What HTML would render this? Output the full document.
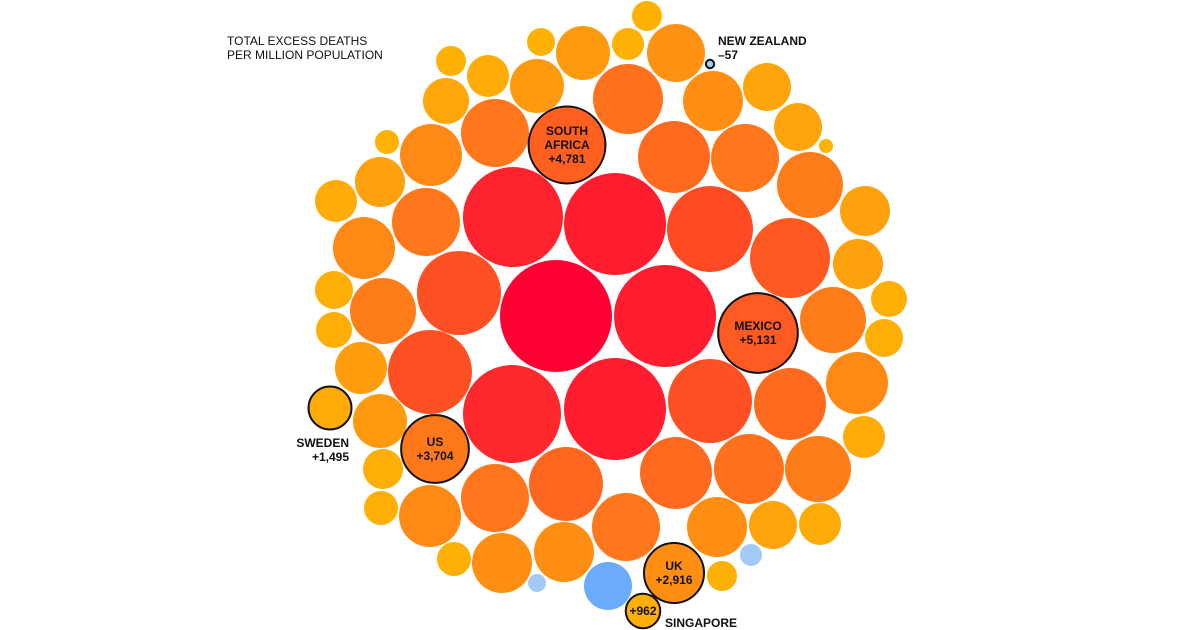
<!DOCTYPE html>
<html><head><meta charset="utf-8">
<style>
html,body{margin:0;padding:0;background:#fff;}
svg{display:block;font-family:"Liberation Sans",Arial,sans-serif;}
</style></head>
<body>
<svg id="chart" width="1200" height="630" viewBox="0 0 1200 630">
<text x="227" y="45" font-size="12" fill="#111">TOTAL EXCESS DEATHS</text>
<text x="227" y="59" font-size="12" fill="#111">PER MILLION POPULATION</text>
<g id="bubbles"></g>
<g id="labels" font-size="12" font-weight="bold" fill="#111"></g>
</svg>
<script>
// Data: excess deaths per million for each country bubble
const countries = ["c1","c2","c3","c4","c5","c6","c7","c8","c9","c10","Mexico","c11b","c12","c13","c14","c15","c16","c17","c18","c19","c20","c21","c22","c23","c24","New Zealand","c26","c27","c28","c29","c30","c31","c32","c33","c34","c35","c36","c37","c38","c39","c40","c41","c42","c43","c44","c45","c46","c47","c48","c49","c50","c51","c52","c53","c54","c55","c56","c57","c58","c59","c60","c61","c62","c63","c64","c65","c66","c67","c68","Singapore","UK","US","Sweden","South Africa"];
const values = [10145,8088,8414,8414,8414,7767,5706,5706,5981,5176,5131,5706,4193,3523,3963,4193,3740,4429,3740,3109,2912,2912,-1863,-262,-391,-57,2912,1863,1427,728,935,935,1294,2358,2187,3523,1168,1048,3109,3740,1427,2022,3109,466,1711,728,1427,2358,634,2358,828,728,2721,3963,3740,2912,1863,1863,159,3740,4193,3523,2022,2022,1048,1168,3523,3109,1427,962,2916,3704,1495,4781];
// Layout (packing result, not data)
const layout = [[556,316],[513,217],[615,224],[665,316],[615,409],[512,414],[459,293],[430,372],[710,229],[790,258],[758,333],[710,401],[790,404],[818,469],[749,469],[676,473],[626,527],[566,484],[495,498],[430,516],[502,563],[564,552],[608,586],[537,583],[751,555],[710,64],[717,527],[773,525],[820,524],[722,576],[454,559],[381,508],[383,469],[380,421],[361,368],[383,311],[334,290],[334,330],[364,248],[426,222],[336,201],[380,182],[431,155],[387,142],[446,101],[451,61],[488,76],[537,86],[541,42],[583,53],[628,44],[647,16],[676,53],[628,99],[495,133],[713,101],[767,87],[798,127],[826,146],[745,158],[674,157],[810,185],[865,211],[858,264],[889,299],[884,338],[833,320],[857,383],[864,437],[643,611],[674,573],[435,449],[330,408],[567,145]];
const highlighted = ["Mexico","New Zealand","Singapore","UK","US","Sweden","South Africa"];

function rScale(v){return 0.556*Math.sqrt(Math.abs(v));}
function lerp(a,b,t){return a.map((x,i)=>Math.round(x+(b[i]-x)*t));}
function color(v){
  if(v<0) return Math.abs(v)>1000?"#6aabfc":"#a3c9f7";
  const stops=[[0,[255,180,0]],[1500,[255,172,8]],[3000,[255,140,20]],[4200,[255,106,30]],[5600,[255,82,34]],[8000,[255,36,46]],[10200,[255,0,51]]];
  for(let i=1;i<stops.length;i++){
    if(v<=stops[i][0]){const t=(v-stops[i-1][0])/(stops[i][0]-stops[i-1][0]);const c=lerp(stops[i-1][1],stops[i][1],t);return `rgb(${c[0]},${c[1]},${c[2]})`;}
  }
  return "rgb(255,0,51)";
}
const NS="http://www.w3.org/2000/svg";
const g=document.getElementById("bubbles");
values.forEach((v,i)=>{
  const c=document.createElementNS(NS,"circle");
  c.setAttribute("cx",layout[i][0]);c.setAttribute("cy",layout[i][1]);
  c.setAttribute("r",rScale(v));
  c.setAttribute("fill",color(v));
  if(highlighted.includes(countries[i])){c.setAttribute("stroke","#111");c.setAttribute("stroke-width","2");}
  
  
  g.appendChild(c);
});
function fmt(v){return (v<0?"\u2013":"+")+Math.abs(v).toLocaleString("en-US");}
function idx(n){return countries.indexOf(n);}
const L=document.getElementById("labels");
function txt(x,y,s,anchor,name){
  const t=document.createElementNS(NS,"text");
  t.setAttribute("x",x);t.setAttribute("y",y);t.setAttribute("text-anchor",anchor);
  t.textContent=s;
  
  
  L.appendChild(t);
}
let i;
i=idx("South Africa");txt(layout[i][0],layout[i][1]-10,"SOUTH","middle","south-africa-label");txt(layout[i][0],layout[i][1]+4,"AFRICA","middle","south-africa-label-2");txt(layout[i][0],layout[i][1]+18,fmt(values[i]),"middle","south-africa-value");
i=idx("Mexico");txt(layout[i][0],layout[i][1]-3,"MEXICO","middle","mexico-label");txt(layout[i][0],layout[i][1]+11,fmt(values[i]),"middle","mexico-value");
i=idx("US");txt(layout[i][0],layout[i][1]-3,"US","middle","us-label");txt(layout[i][0],layout[i][1]+11,fmt(values[i]),"middle","us-value");
i=idx("UK");txt(layout[i][0],layout[i][1]-3,"UK","middle","uk-label");txt(layout[i][0],layout[i][1]+11,fmt(values[i]),"middle","uk-value");
i=idx("Singapore");txt(layout[i][0],layout[i][1]+4,fmt(values[i]),"middle","singapore-value");txt(665,627,"SINGAPORE","start","singapore-label");
i=idx("Sweden");txt(349,447,"SWEDEN","end","sweden-label");txt(349,461,fmt(values[i]),"end","sweden-value");
i=idx("New Zealand");txt(718,45,"NEW ZEALAND","start","new-zealand-label");txt(718,59,fmt(values[i]),"start","new-zealand-value");
</script>
</body></html>
